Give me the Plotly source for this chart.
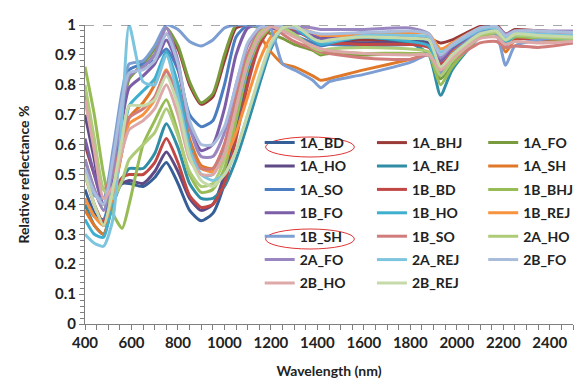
import plotly.graph_objects as go

wavelength = [400, 440, 480, 520, 560, 590, 650, 700, 750, 800, 850, 900, 950, 1000, 1050, 1100,
              1150, 1200, 1250, 1300, 1380, 1415, 1450, 1600, 1800, 1880, 1930, 1980, 2100, 2170,
              2210, 2250, 2350, 2500]

s_1A_BD = [0.45, 0.37, 0.33, 0.42, 0.47, 0.47, 0.46, 0.49, 0.54, 0.47, 0.38, 0.345, 0.37, 0.47, 0.64, 0.82, 0.94, 0.99, 1.0, 0.99,
           0.965, 0.955, 0.955, 0.95, 0.95, 0.94, 0.89, 0.92, 0.99, 0.99, 0.96, 0.98, 0.98, 0.975]
s_1A_BHJ = [0.6, 0.5, 0.42, 0.55, 0.72, 0.83, 0.86, 0.9, 0.97, 0.92, 0.8, 0.735, 0.76, 0.88, 0.99, 1.0, 1.0, 0.995, 0.99, 0.98,
            0.965, 0.955, 0.955, 0.95, 0.955, 0.955, 0.94, 0.95, 0.995, 1.0, 0.97, 0.985, 0.98, 0.975]
s_1A_FO = [0.55, 0.45, 0.38, 0.5, 0.7, 0.82, 0.87, 0.92, 0.99, 0.93, 0.81, 0.74, 0.77, 0.9, 1.0, 1.0, 0.99, 0.97, 0.955, 0.935,
           0.915, 0.9, 0.905, 0.9, 0.905, 0.9, 0.82, 0.87, 0.97, 0.98, 0.95, 0.97, 0.965, 0.96]
s_1A_HO = [0.70, 0.55, 0.40, 0.44, 0.47, 0.48, 0.47, 0.51, 0.575, 0.51, 0.42, 0.38, 0.40, 0.5, 0.68, 0.86, 0.96, 1.0, 1.0, 0.99,
           0.955, 0.94, 0.945, 0.94, 0.945, 0.935, 0.87, 0.9, 0.98, 0.985, 0.955, 0.975, 0.97, 0.965]
s_1A_REJ = [0.4, 0.33, 0.3, 0.4, 0.48, 0.52, 0.52, 0.57, 0.67, 0.59, 0.47, 0.42, 0.42, 0.46, 0.55, 0.67, 0.8, 0.92, 0.99, 1.0,
            0.955, 0.94, 0.945, 0.96, 0.94, 0.9, 0.765, 0.85, 0.96, 0.98, 0.95, 0.97, 0.965, 0.96]
s_1A_SH = [0.38, 0.33, 0.3, 0.42, 0.58, 0.69, 0.74, 0.8, 0.9, 0.8, 0.62, 0.53, 0.52, 0.6, 0.75, 0.9, 0.96, 0.91, 0.87, 0.86,
           0.83, 0.815, 0.82, 0.85, 0.885, 0.9, 0.86, 0.91, 0.975, 0.97, 0.91, 0.95, 0.96, 0.97]
s_1A_SO = [0.42, 0.36, 0.35, 0.5, 0.72, 0.85, 0.87, 0.88, 0.92, 0.85, 0.7, 0.66, 0.68, 0.8, 0.96, 1.0, 1.0, 0.99, 0.98, 0.965,
           0.94, 0.93, 0.935, 0.93, 0.935, 0.93, 0.86, 0.9, 0.98, 0.985, 0.93, 0.97, 0.97, 0.97]
s_1B_BD = [0.5, 0.4, 0.34, 0.43, 0.49, 0.5, 0.5, 0.54, 0.62, 0.54, 0.43, 0.39, 0.4, 0.47, 0.62, 0.8, 0.93, 0.99, 1.0, 0.985,
           0.95, 0.94, 0.94, 0.935, 0.935, 0.925, 0.87, 0.9, 0.97, 0.975, 0.94, 0.955, 0.95, 0.95]
s_1B_BHJ = [0.86, 0.7, 0.5, 0.37, 0.32, 0.4, 0.6, 0.68, 0.75, 0.64, 0.5, 0.44, 0.45, 0.52, 0.68, 0.85, 0.95, 0.99, 0.99, 0.97,
            0.92, 0.905, 0.91, 0.905, 0.905, 0.9, 0.8, 0.86, 0.96, 0.97, 0.94, 0.96, 0.955, 0.95]
s_1B_FO = [0.62, 0.5, 0.4, 0.5, 0.68, 0.79, 0.83, 0.87, 0.95, 0.86, 0.66, 0.58, 0.6, 0.72, 0.9, 0.99, 1.0, 0.99, 0.985, 0.975,
           0.965, 0.955, 0.955, 0.975, 0.96, 0.95, 0.88, 0.92, 0.985, 0.99, 0.955, 0.975, 0.975, 0.97]
s_1B_HO = [0.35, 0.3, 0.29, 0.42, 0.6, 0.73, 0.78, 0.82, 0.91, 0.8, 0.6, 0.5, 0.5, 0.58, 0.72, 0.86, 0.96, 1.0, 1.0, 0.99,
           0.95, 0.935, 0.94, 0.96, 0.945, 0.93, 0.83, 0.88, 0.97, 0.98, 0.94, 0.965, 0.96, 0.955]
s_1B_REJ = [0.42, 0.36, 0.33, 0.43, 0.58, 0.67, 0.7, 0.75, 0.85, 0.75, 0.58, 0.52, 0.51, 0.55, 0.64, 0.76, 0.88, 0.96, 1.0, 0.995,
            0.975, 0.965, 0.965, 0.965, 0.975, 0.97, 0.92, 0.94, 0.99, 0.995, 0.965, 0.98, 0.98, 0.975]
s_1B_SH = [0.5, 0.43, 0.42, 0.58, 0.78, 0.87, 0.88, 0.93, 1.0, 0.985, 0.945, 0.93, 0.95, 0.99, 1.0, 1.0, 0.995, 0.985, 0.87, 0.85,
           0.815, 0.79, 0.81, 0.835, 0.875, 0.9, 0.84, 0.9, 0.975, 0.97, 0.865, 0.93, 0.95, 0.965]
s_1B_SO = [0.77, 0.6, 0.45, 0.5, 0.62, 0.69, 0.72, 0.76, 0.845, 0.75, 0.58, 0.52, 0.52, 0.6, 0.76, 0.9, 0.98, 1.0, 0.97, 0.945,
           0.92, 0.91, 0.905, 0.89, 0.885, 0.9, 0.85, 0.88, 0.94, 0.945, 0.925, 0.93, 0.925, 0.94]
s_2A_HO = [0.8, 0.62, 0.45, 0.42, 0.48, 0.55, 0.6, 0.64, 0.72, 0.63, 0.51, 0.46, 0.47, 0.55, 0.72, 0.88, 0.97, 1.0, 0.99, 0.97,
           0.925, 0.915, 0.92, 0.925, 0.92, 0.91, 0.83, 0.88, 0.965, 0.975, 0.95, 0.965, 0.96, 0.955]
s_2A_FO = [0.55, 0.45, 0.38, 0.52, 0.72, 0.83, 0.86, 0.9, 0.99, 0.88, 0.66, 0.56, 0.56, 0.64, 0.8, 0.93, 0.99, 1.0, 1.0, 0.995,
           0.99, 0.985, 0.985, 0.985, 0.99, 0.97, 0.89, 0.93, 0.99, 0.995, 0.97, 0.98, 0.98, 0.98]
s_2A_REJ = [0.3, 0.27, 0.26, 0.35, 0.7, 1.0, 0.81, 0.8, 0.9, 0.76, 0.58, 0.5, 0.48, 0.5, 0.58, 0.7, 0.82, 0.93, 0.99, 1.0,
            0.955, 0.945, 0.945, 0.965, 0.965, 0.96, 0.91, 0.93, 0.985, 0.99, 0.96, 0.975, 0.97, 0.965]
s_2B_FO = [0.52, 0.44, 0.4, 0.55, 0.75, 0.84, 0.85, 0.88, 0.97, 0.87, 0.68, 0.6, 0.6, 0.66, 0.8, 0.94, 0.99, 1.0, 0.995, 0.99,
           0.975, 0.97, 0.97, 0.975, 0.98, 0.97, 0.9, 0.935, 0.99, 0.995, 0.965, 0.98, 0.98, 0.975]
s_2B_HO = [0.75, 0.58, 0.42, 0.46, 0.58, 0.65, 0.68, 0.72, 0.8, 0.7, 0.55, 0.5, 0.5, 0.57, 0.72, 0.87, 0.96, 0.995, 0.98, 0.96,
           0.93, 0.92, 0.915, 0.905, 0.9, 0.9, 0.85, 0.89, 0.955, 0.96, 0.935, 0.945, 0.94, 0.945]
s_2B_REJ = [0.5, 0.4, 0.33, 0.45, 0.62, 0.73, 0.73, 0.75, 0.83, 0.73, 0.56, 0.48, 0.46, 0.5, 0.58, 0.7, 0.83, 0.94, 0.99, 1.0,
            0.955, 0.945, 0.95, 0.96, 0.955, 0.95, 0.86, 0.9, 0.97, 0.98, 0.95, 0.97, 0.965, 0.96]

series_names = ["1A_BD", "1A_BHJ", "1A_FO", "1A_HO", "1A_REJ", "1A_SH", "1A_SO", "1B_BD", "1B_BHJ", "1B_FO",
                "1B_HO", "1B_REJ", "1B_SH", "1B_SO", "2A_HO", "2A_FO", "2A_REJ", "2B_FO", "2B_HO", "2B_REJ"]
series_values = [s_1A_BD, s_1A_BHJ, s_1A_FO, s_1A_HO, s_1A_REJ, s_1A_SH, s_1A_SO, s_1B_BD, s_1B_BHJ, s_1B_FO,
                 s_1B_HO, s_1B_REJ, s_1B_SH, s_1B_SO, s_2A_HO, s_2A_FO, s_2A_REJ, s_2B_FO, s_2B_HO, s_2B_REJ]
series_colors = ["#365F97", "#9A3A38", "#7A9A3E", "#5E4A85", "#2F8DA6", "#E0782A", "#4A7EC0", "#C04744",
                 "#98BC55", "#7C5DA8", "#3FAFCF", "#F7923F", "#7C9ED2", "#D07C7A", "#AECB78", "#9A86C0",
                 "#7DC5DE", "#A9BCDC", "#DDA9A8", "#C6D9A9"]
legend_ids = ["legend", "legend2", "legend3"]

FONT = "Lato"
fig = go.Figure()
for i, (name, vals, col) in enumerate(zip(series_names, series_values, series_colors)):
    label = name + ("\u00a0\u00a0" if i % 3 == 2 else "")
    fig.add_trace(go.Scatter(
        x=wavelength, y=vals, name=label, mode="lines",
        line=dict(color=col, width=3, shape="spline", smoothing=0.6),
        legend=legend_ids[i % 3], legendgroup=name, hoverinfo="skip"))

L, R, T, B = 77, 5, 17, 67
W, H = 582, 383
pw, ph = W - L - R, H - T - B


def px_x(p):
    return (p - L) / pw


def px_y(p):
    return (H - B - p) / ph


leg_common = dict(orientation="v", xanchor="left", yanchor="top", bgcolor="rgba(0,0,0,0)",
                  font=dict(family=FONT, size=14, color="#222222", weight="bold"),
                  tracegroupgap=2.2, itemwidth=30)
col_x = [256, 371, 485]
leg_top = 119
fig.update_layout(
    legend=dict(x=px_x(col_x[0]), y=px_y(leg_top), **leg_common),
    legend2=dict(x=px_x(col_x[1]), y=px_y(leg_top), **leg_common),
    legend3=dict(x=px_x(col_x[2]), y=px_y(leg_top), **leg_common),
)

axis_font = dict(family=FONT, size=15, color="#222222", weight="bold")
title_font = dict(family=FONT, size=14, color="#222222", weight="bold")
fig.update_xaxes(range=[400, 2500], dtick=200, tick0=400, showgrid=False, zeroline=False,
                 showline=True, linecolor="#7f7f7f", linewidth=1,
                 ticks="outside", ticklen=5, tickcolor="#7f7f7f",
                 minor=dict(dtick=50, ticks="outside", ticklen=5, tickcolor="#7f7f7f"),
                 tickfont=axis_font,
                 title=dict(text="Wavelength (nm)", font=title_font, standoff=16))
fig.update_yaxes(range=[0, 1], dtick=0.1, showgrid=False, zeroline=False,
                 showline=True, linecolor="#7f7f7f", linewidth=1,
                 ticks="outside", ticklen=5, tickcolor="#7f7f7f",
                 minor=dict(dtick=0.02, ticks="outside", ticklen=4, tickcolor="#7f7f7f"),
                 tickfont=axis_font,
                 title=dict(text="Relative reflectance %", font=title_font, standoff=22))

shapes = [
    dict(type="line", xref="paper", x0=0, x1=1, yref="y", y0=1, y1=1,
         line=dict(color="#555555", width=1, dash="dash"), layer="above"),
    dict(type="circle", xref="paper", yref="paper", x0=px_x(262), x1=px_x(353), y0=px_y(149), y1=px_y(129),
         line=dict(color="#E03434", width=1)),
    dict(type="circle", xref="paper", yref="paper", x0=px_x(262), x1=px_x(353), y0=px_y(241), y1=px_y(221),
         line=dict(color="#E03434", width=1)),
]
fig.update_layout(shapes=shapes, width=W, height=H, margin=dict(l=L, r=R, t=T, b=B),
                  paper_bgcolor="white", plot_bgcolor="white", font=dict(family=FONT),
                  showlegend=True)
fig.write_html("out.html")
